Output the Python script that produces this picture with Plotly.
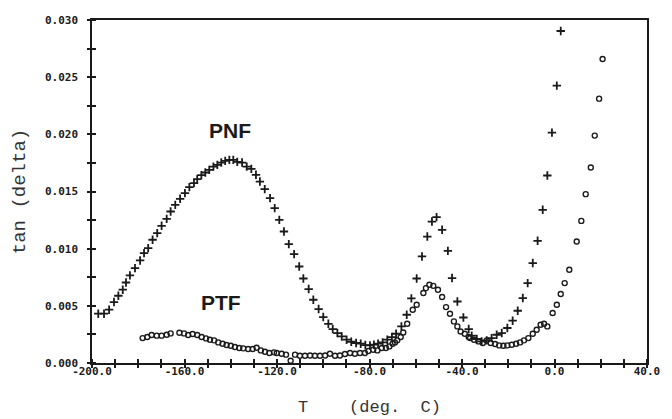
import plotly.graph_objects as go

# PNF (+ markers): temperature (deg C), tan(delta)
pnf_T = [-197.3, -194.8, -192.6, -190.5, -188.6, -186.7, -185.3, -183.6, -181.4, -179.2,
         -177.5, -175.7, -173.8, -171.8, -169.9, -167.7, -166.0, -164.0, -161.9, -159.8,
         -157.9, -155.9, -154.5, -152.7, -151.0, -149.3, -147.5, -145.8, -144.1, -142.4,
         -140.6, -138.9, -137.2, -135.1, -133.1, -131.1, -129.1, -127.4, -125.3, -123.0,
         -121.0, -119.0, -117.0, -114.9, -112.6, -110.4, -108.6, -106.3, -104.3, -102.0,
         -100.0, -97.8, -95.9, -93.9, -92.0, -89.9, -87.9, -85.8, -83.8, -81.8,
         -79.8, -78.1, -76.3, -74.3, -72.3, -70.3, -68.5, -66.2, -63.9, -61.9,
         -59.6, -57.3, -55.0, -53.0, -51.0, -48.6, -46.1, -44.3, -42.0, -39.4,
         -37.1, -35.8, -33.6, -31.5, -29.3, -27.2, -25.0, -22.8, -20.4, -18.1,
         -15.9, -13.7, -11.6, -9.4, -7.3, -5.1, -3.1, -1.1, 1.0, 2.7]
pnf_tan = [0.00431, 0.00431, 0.00466, 0.00533, 0.00588, 0.00641, 0.00704, 0.00766, 0.00830, 0.00897,
           0.00961, 0.01005, 0.01078, 0.01136, 0.01200, 0.01261, 0.01325, 0.01383, 0.01436, 0.01486,
           0.01538, 0.01573, 0.01608, 0.01643, 0.01666, 0.01689, 0.01718, 0.01733, 0.01753, 0.01768,
           0.01777, 0.01777, 0.01759, 0.01753, 0.01718, 0.01698, 0.01646, 0.01587, 0.01521, 0.01442,
           0.01355, 0.01252, 0.01150, 0.01040, 0.00952, 0.00844, 0.00739, 0.00647, 0.00553, 0.00472,
           0.00402, 0.00343, 0.00297, 0.00262, 0.00232, 0.00204, 0.00186, 0.00175, 0.00169, 0.00157,
           0.00154, 0.00160, 0.00169, 0.00180, 0.00204, 0.00227, 0.00256, 0.00320, 0.00422, 0.00565,
           0.00739, 0.00932, 0.01106, 0.01237, 0.01276, 0.01165, 0.00981, 0.00743, 0.00538, 0.00398,
           0.00297, 0.00239, 0.00210, 0.00189, 0.00198, 0.00218, 0.00247, 0.00262, 0.00306, 0.00370,
           0.00457, 0.00568, 0.00699, 0.00874, 0.01069, 0.01340, 0.01640, 0.02015, 0.02426, 0.02904]

# PTF (o markers)
ptf_T = [-178.1, -176.1, -174.2, -172.0, -169.9, -167.7, -166.0, -162.2, -160.2, -158.4,
         -156.5, -154.5, -152.6, -150.7, -149.0, -147.2, -145.4, -143.5, -141.8, -140.0,
         -138.2, -136.3, -134.6, -132.5, -130.5, -128.8, -127.0, -125.2, -123.3, -121.3,
         -120.1, -118.0, -116.1, -114.1, -112.2, -110.1, -107.9, -105.7, -103.6, -101.4,
         -99.2, -97.1, -94.9, -92.8, -90.6, -88.4, -86.3, -84.1, -82.0, -80.5,
         -78.4, -76.6, -74.7, -72.9, -71.4, -70.0, -69.0, -68.0, -66.5, -65.4,
         -63.7, -61.3, -59.6, -56.7, -55.6, -54.1, -52.4, -50.4, -48.6, -46.9,
         -45.2, -43.5, -42.0, -40.6, -38.8, -37.1, -36.5, -34.8, -32.9, -31.0,
         -29.3, -27.6, -25.7, -23.9, -22.1, -20.4, -18.5, -16.6, -14.9, -13.2,
         -11.3, -9.4, -7.7, -6.0, -4.5, -3.1, -0.8, 1.0, 2.7, 4.4,
         6.4, 9.6, 11.6, 13.5, 15.7, 17.4, 19.3, 20.8]
ptf_tan = [0.00218, 0.00227, 0.00245, 0.00239, 0.00239, 0.00247, 0.00259, 0.00265, 0.00259, 0.00245,
           0.00253, 0.00245, 0.00227, 0.00215, 0.00204, 0.00198, 0.00180, 0.00169, 0.00157, 0.00151,
           0.00140, 0.00131, 0.00128, 0.00122, 0.00122, 0.00134, 0.00110, 0.00099, 0.00087, 0.00093,
           0.00087, 0.00081, 0.00073, 0.00020, 0.00073, 0.00064, 0.00064, 0.00066, 0.00064, 0.00064,
           0.00066, 0.00081, 0.00064, 0.00066, 0.00079, 0.00087, 0.00081, 0.00087, 0.00087, 0.00105,
           0.00116, 0.00110, 0.00131, 0.00131, 0.00145, 0.00169, 0.00180, 0.00198, 0.00227, 0.00267,
           0.00343, 0.00466, 0.00509, 0.00612, 0.00655, 0.00684, 0.00675, 0.00641, 0.00577, 0.00489,
           0.00431, 0.00364, 0.00320, 0.00276, 0.00256, 0.00227, 0.00218, 0.00204, 0.00189, 0.00175,
           0.00198, 0.00175, 0.00166, 0.00154, 0.00151, 0.00154, 0.00160, 0.00169, 0.00180, 0.00198,
           0.00218, 0.00256, 0.00291, 0.00335, 0.00343, 0.00320, 0.00437, 0.00509, 0.00603, 0.00699,
           0.00815, 0.01063, 0.01243, 0.01477, 0.01710, 0.01989, 0.02312, 0.02659]

x_tick_vals = [-200, -160, -120, -80, -40, 0, 40]
x_tick_text = ["-200.0", "-160.0", "-120.0", "-80.0", "-40.0", "0.0", "40.0"]
y_tick_vals = [0.000, 0.005, 0.010, 0.015, 0.020, 0.025, 0.030]
y_tick_text = ["0.000", "0.005", "0.010", "0.015", "0.020", "0.025", "0.030"]

x_range = [-200, 40]
y_range = [0, 0.030]

ink = "#1a1a1a"
tickfont = dict(family="DejaVu Sans Mono", size=11, color=ink, weight="bold")
titlefont = dict(family="Liberation Mono", size=17, color="#333333")

fig = go.Figure()
fig.add_trace(go.Scatter(x=pnf_T, y=pnf_tan, mode="markers", name="PNF",
                         marker=dict(symbol="cross-thin", size=6, color=ink,
                                     line=dict(width=1.8, color=ink))))
fig.add_trace(go.Scatter(x=ptf_T, y=ptf_tan, mode="markers", name="PTF",
                         marker=dict(symbol="circle-open", size=5, color=ink,
                                     line=dict(width=1.4, color=ink))))
# carriers (draw nothing) so the overlay axes holding the tick marks are rendered
for ax_n in ("2", "3"):
    fig.add_trace(go.Scatter(x=pnf_T, y=pnf_tan, mode="none", xaxis="x" + ax_n,
                             yaxis="y" + ax_n, hoverinfo="skip", showlegend=False))

fig.add_annotation(x=-140.3, y=0.0203, text="<b>PNF</b>", showarrow=False,
                   font=dict(family="Liberation Sans", size=21, color=ink))
fig.add_annotation(x=-144.2, y=0.00527, text="<b>PTF</b>", showarrow=False,
                   font=dict(family="Liberation Sans", size=21, color=ink))


def tick_axis(over, anchor, rng, side, tick0, dtick, direction):
    # axis that only carries the (crossing) tick marks, drawn as minor ticks
    return dict(overlaying=over, anchor=anchor, range=rng, side=side,
                tickmode="array", tickvals=[], ticks="", showticklabels=False,
                showgrid=False, zeroline=False, showline=False, automargin=False,
                minor=dict(tickmode="linear", tick0=tick0, dtick=dtick, ticks=direction,
                           ticklen=4, tickwidth=1.5, tickcolor=ink, showgrid=False))


fig.update_layout(
    width=672, height=419,
    margin=dict(l=92, r=25, t=20, b=56),
    paper_bgcolor="white", plot_bgcolor="white",
    showlegend=False,
    xaxis=dict(range=x_range, tickmode="array", tickvals=x_tick_vals, ticktext=x_tick_text,
               showgrid=False, zeroline=False, showline=True, linecolor=ink, linewidth=1.5,
               mirror=True, ticks="", automargin=False,
               tickfont=tickfont, ticklabelstandoff=-3,
               title=dict(text="T    (deg.  C)", font=titlefont, standoff=23)),
    yaxis=dict(range=y_range, tickmode="array", tickvals=y_tick_vals, ticktext=y_tick_text,
               showgrid=False, zeroline=False, showline=True, linecolor=ink, linewidth=1.5,
               mirror=True, ticks="", automargin=False,
               tickfont=tickfont, ticklabelstandoff=10,
               title=dict(text="tan (delta)", font=dict(family="Liberation Mono", size=19,
                                                        color="#333333"), standoff=14)),
    xaxis2=tick_axis("x", "y2", x_range, "bottom", -200, 10, "outside"),
    yaxis2=tick_axis("y", "x2", y_range, "left", 0, 0.0025, "outside"),
    xaxis3=tick_axis("x", "y3", x_range, "bottom", -200, 10, "inside"),
    yaxis3=tick_axis("y", "x3", y_range, "left", 0, 0.0025, "inside"),
)

fig.write_html("out.html")
